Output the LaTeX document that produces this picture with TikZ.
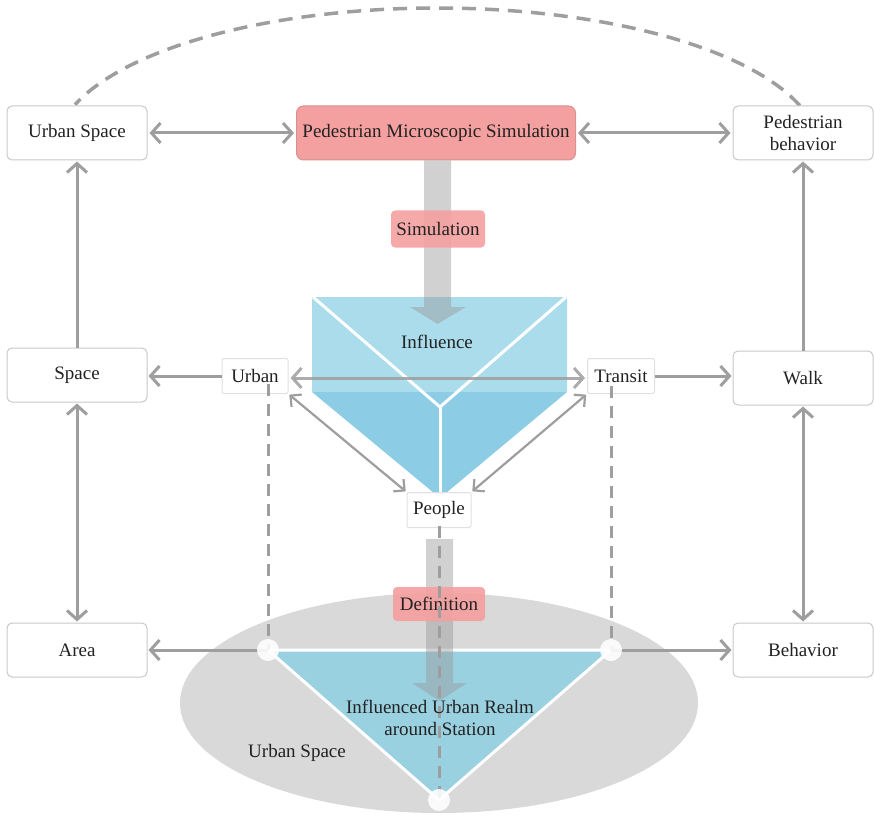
\documentclass[tikz,border=0pt]{standalone}
\usepackage{fontspec}
\setmainfont{Liberation Serif}
\usetikzlibrary{arrows.meta,calc}
\definecolor{arr}{HTML}{9E9E9E}
\definecolor{boxline}{HTML}{C8C8C8}
\definecolor{sboxline}{HTML}{E0E0E0}
\definecolor{pinkf}{HTML}{F5A0A0}
\definecolor{pinkd}{HTML}{D99090}
\definecolor{lblue}{HTML}{ABDCEC}
\definecolor{dblue}{HTML}{8CCDE5}
\definecolor{tblue}{HTML}{9AD1E1}
\definecolor{ellg}{HTML}{D9D9D9}
\definecolor{txt}{HTML}{222222}
\begin{document}
\begin{tikzpicture}[x=1pt,y=-1pt, font=\fontsize{19}{23}\selectfont, text=txt,
  bigbox/.style={draw=boxline, line width=1pt, rounded corners=5pt, fill=white, minimum width=140pt, minimum height=54pt, inner sep=0pt, align=center},
  smallbox/.style={draw=sboxline, line width=1pt, rounded corners=2pt, fill=white, fill opacity=0.9, text opacity=1, minimum height=35pt, inner sep=3pt},
  pinkbox/.style={fill=pinkf, fill opacity=0.9, text opacity=1, rounded corners=4pt, inner sep=0pt},
  arrow/.style={draw=arr, line width=3pt, -{Straight Barb[length=9pt,width=20pt]}},
  darrow/.style={draw=arr, line width=3pt, {Straight Barb[length=9pt,width=20pt]}-{Straight Barb[length=9pt,width=20pt]}},
  thinarrow/.style={draw=arr, line width=2.2pt, {Straight Barb[length=8pt,width=16pt]}-{Straight Barb[length=8pt,width=16pt]}},
  dashline/.style={draw=arr, line width=3pt, dash pattern=on 12pt off 8pt},
  bigarrow/.style={fill=gray!80, fill opacity=0.45},
  joint/.style={circle, fill=white, fill opacity=0.88, minimum size=22pt, inner sep=0pt}
]
\useasboundingbox (0,0) rectangle (874,818);

% dashed arc on top
\draw[draw=arr, line width=3.5pt, dash pattern=on 14pt off 9pt] plot[domain=18.2:161.4, samples=90] ({437+382*cos(\x)},{150-142*sin(\x)});

% lower ellipse
\fill[ellg] (439,703) ellipse [x radius=259pt, y radius=110pt];

% upper prism
\begin{scope}
\clip (312,297) -- (567,297) -- (567,392) -- (440,498) -- (312,392) -- cycle;
\fill[lblue] (300,290) rectangle (580,392);
\fill[dblue] (300,392) rectangle (580,510);
\end{scope}
\coordinate (pc) at (440,407);
\draw[white, line width=3pt] (313,297) -- (pc) -- (566,297);
\draw[white, line width=3pt] (pc) -- (440,498);

% lower triangle
\coordinate (TL) at (268,650);
\coordinate (TR) at (611,650);
\coordinate (TB) at (439,800);
\fill[tblue] (TL) -- (TR) -- (TB) -- cycle;
\draw[white, line width=3pt, line join=round] (TL) -- (TR) -- (TB) -- cycle;

% main boxes
\node[bigbox] (us) at (77,133) {Urban Space};
\node[bigbox] (pb) at (803,133) {Pedestrian\\[-1pt]behavior};
\node[bigbox] (sp) at (77,375) {Space};
\node[bigbox] (wk) at (803,378) {Walk};
\node[bigbox] (ar) at (77,650) {Area};
\node[bigbox] (bh) at (803,650) {Behavior};
\node[fill=pinkf, draw=pinkd, line width=1pt, rounded corners=7pt, minimum width=279pt, minimum height=54pt, inner sep=0pt] (pms) at (436,133) {Pedestrian Microscopic Simulation};

% big upper arrow
\fill[bigarrow] ($(pms.south)+(-12,0)$) -- ++(27,0) -- (451,307) -- (466,307) -- (437.5,324) -- (410,307) -- (424,307) -- cycle;
\node[pinkbox, minimum width=94pt, minimum height=37pt] (sim) at (438,229) {Simulation};
\node (inf) at (437,342) {Influence};

% small nodes
\node[smallbox, minimum width=66pt] (ub) at (255,376) {Urban};
\node[smallbox, minimum width=67pt] (tr) at (621,376) {Transit};
\node[smallbox, minimum width=64pt] (pp) at (439,510) {People};

% big lower arrow
\fill[bigarrow] ($(pp.south)+(-13,11)$) -- ++(27,0) -- (453,683) -- (467,683) -- (439.5,701) -- (412,683) -- (426,683) -- cycle;
\node[pinkbox, fill opacity=0.92, minimum width=92pt, minimum height=34pt] (def) at (439,604) {Definition};

% arrows
\draw[darrow, shorten <=2pt, shorten >=2pt] (us.east) -- (pms.west);
\draw[darrow, shorten <=2pt, shorten >=2pt] (pms.east) -- (pb.west);
\draw[arrow, shorten >=1pt] (sp.north) -- (us.south);
\draw[darrow, shorten <=1pt, shorten >=1pt] (sp.south) -- (ar.north);
\draw[arrow, shorten >=1pt] (wk.north) -- (pb.south);
\draw[darrow, shorten <=1pt, shorten >=1pt] (wk.south) -- (bh.north);
\draw[arrow, shorten >=1pt] (ub.west) -- (sp.east |- ub.west);
\draw[arrow, shorten >=1pt] (tr.east) -- (wk.west |- tr.east);
\draw[darrow, draw opacity=0.85, shorten <=2pt, shorten >=2pt] ([yshift=-2pt]ub.east) -- ([yshift=-2pt]tr.west);
\draw[thinarrow, shorten <=1pt, shorten >=1pt] (ub.south east) -- (pp.north west);
\draw[thinarrow, shorten <=1pt, shorten >=1pt] (tr.south west) -- (pp.north east);
\draw[arrow, shorten >=1pt] (TL) -- (ar.east);
\draw[arrow, shorten >=1pt] (TR) -- (bh.west);

% dashed verticals
\draw[dashline] ($(TL |- ub.south)+(0,-10)$) -- (TL);
\draw[dashline] ($(TR |- tr.south)+(0,-8)$) -- (TR);
\draw[dashline] ($(pp.south)+(0,-2)$) -- (TB);

% joints
\node[joint] (j1) at (TL) {};
\node[joint] (j2) at (TR) {};
\node[joint] (j3) at (TB) {};

% texts
\node[align=center, font=\fontsize{19}{22}\selectfont] (realm) at (440,718) {Influenced Urban Realm\\around Station};
\node (uslbl) at (297,753) {Urban Space};
\end{tikzpicture}
\end{document}
